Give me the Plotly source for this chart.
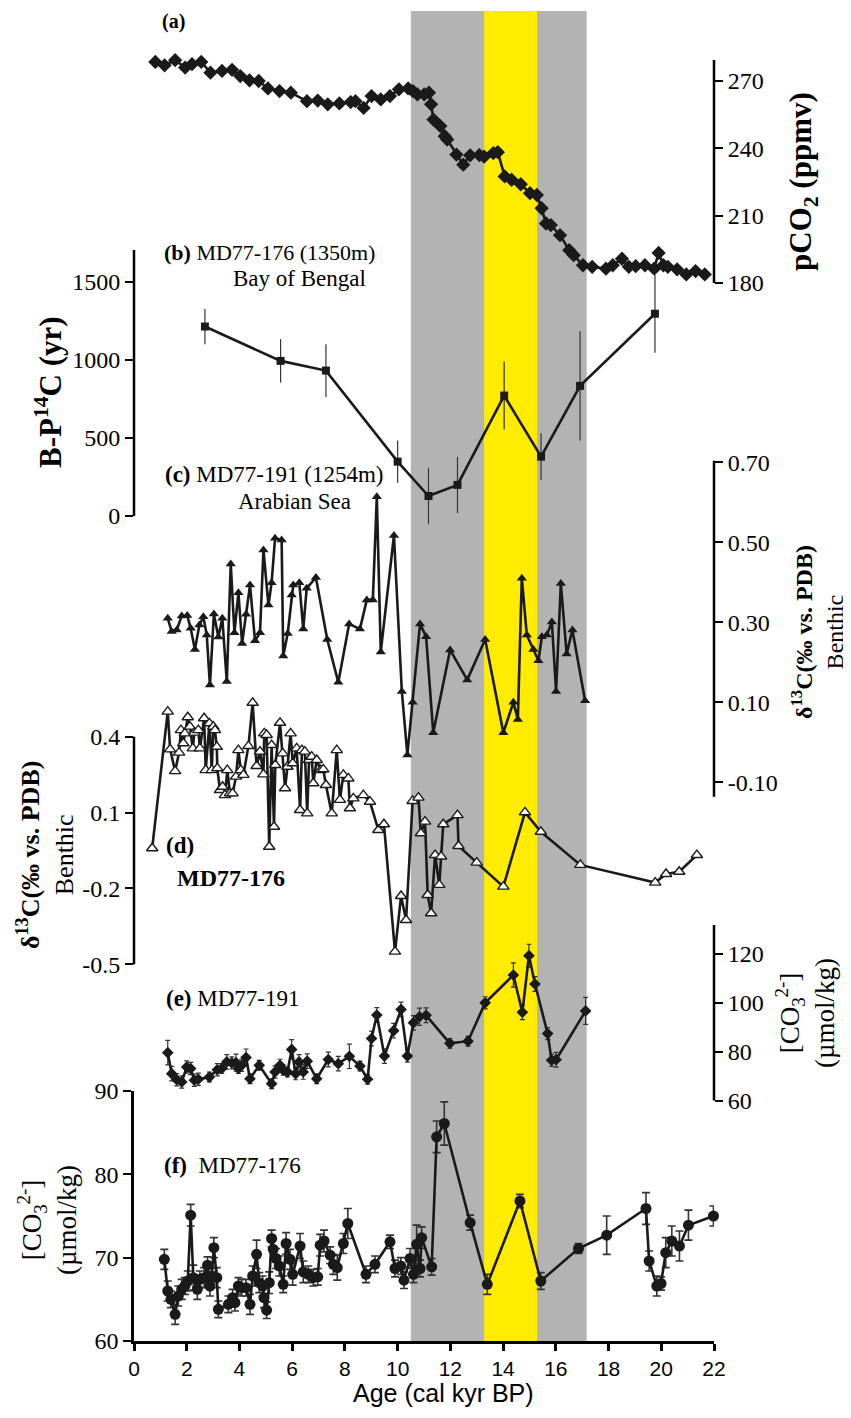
import plotly.graph_objects as go

# ---------------- data ----------------
a_age = [0.81,1.16,1.56,1.94,2.20,2.55,2.90,3.34,3.72,4.03,4.38,4.73,5.08,5.52,5.95,6.56,6.97,7.35,7.79,8.22,8.40,8.71,9.01,9.36,9.71,10.05,10.40,10.58,10.75,11.01,11.19,11.27,11.36,11.62,11.79,11.88,12.23,12.49,12.75,13.10,13.28,13.63,13.80,14.06,14.32,14.67,15.02,15.28,15.46,15.63,15.81,16.16,16.51,16.68,17.03,17.38,17.90,18.16,18.51,18.77,19.03,19.38,19.73,19.90,20.08,20.25,20.60,20.95,21.30,21.65]
a_co2 = [278.5,277.0,279.3,276.0,277.5,278.5,273.7,274.5,275.0,272.2,270.3,270.0,266.7,265.5,264.8,261.0,261.3,259.6,260.0,260.6,261.0,258.0,263.3,261.8,263.3,266.3,266.7,265.5,264.0,264.0,264.8,259.6,252.8,249.9,245.4,243.9,237.2,232.7,236.9,237.0,236.3,237.9,238.3,227.5,226.0,224.0,220.0,219.2,213.3,206.5,205.8,201.3,194.6,192.4,187.9,187.2,186.4,187.9,190.8,187.2,187.5,187.9,186.4,193.4,187.9,187.2,186.1,183.8,185.3,183.8]

b_age = [2.69,5.56,7.28,10.0,11.17,12.27,14.04,15.44,16.92,19.76]
b_val = [1213,993,931,348,128,199,771,380,833,1295]
b_err = [113,139,169,135,180,180,218,150,350,250]

c_age = [1.28,1.43,1.62,1.81,2.02,2.15,2.31,2.48,2.63,2.76,2.88,3.03,3.20,3.35,3.52,3.67,3.81,3.96,4.10,4.25,4.40,4.59,4.78,4.91,5.10,5.22,5.35,5.60,5.66,5.83,5.98,6.04,6.27,6.42,6.55,6.90,7.33,7.75,8.16,8.57,8.83,9.06,9.21,9.36,9.86,10.16,10.37,10.57,10.85,11.08,11.35,11.99,12.64,13.32,14.01,14.39,14.56,14.71,14.90,15.15,15.34,15.47,15.66,15.85,16.01,16.19,16.41,16.63,17.11]
c_d13 = [0.310,0.277,0.281,0.316,0.317,0.285,0.232,0.293,0.314,0.268,0.143,0.321,0.263,0.310,0.152,0.446,0.274,0.374,0.247,0.320,0.393,0.254,0.274,0.481,0.343,0.399,0.510,0.506,0.216,0.272,0.368,0.393,0.399,0.283,0.385,0.412,0.257,0.150,0.296,0.283,0.356,0.356,0.614,0.226,0.517,0.127,-0.032,0.100,0.296,0.264,0.024,0.231,0.156,0.257,0.024,0.100,0.057,0.410,0.268,0.232,0.204,0.264,0.268,0.301,0.127,0.397,0.221,0.281,0.104]

d_age = [0.69,1.28,1.37,1.56,1.71,1.78,1.87,1.93,2.04,2.12,2.23,2.29,2.44,2.50,2.66,2.72,2.86,2.95,3.01,3.07,3.14,3.16,3.26,3.36,3.45,3.54,3.64,3.74,3.87,3.96,4.05,4.15,4.34,4.50,4.65,4.78,4.91,4.94,5.03,5.13,5.22,5.31,5.36,5.54,5.64,5.73,5.82,5.94,6.02,6.17,6.30,6.37,6.48,6.57,6.64,6.74,6.80,6.93,7.08,7.18,7.28,7.50,7.69,7.81,7.94,8.13,8.19,8.32,8.70,8.95,9.27,9.48,9.90,10.13,10.32,10.57,10.79,10.88,11.04,11.14,11.27,11.42,11.58,11.65,11.73,12.27,12.31,13.00,14.01,14.83,15.43,16.93,19.77,20.18,20.68,21.35]
d_d13 = [-0.041,0.499,0.350,0.264,0.337,0.426,0.374,0.413,0.477,0.440,0.354,0.416,0.426,0.354,0.473,0.268,0.453,0.268,0.440,0.426,0.360,0.275,0.189,0.202,0.169,0.268,0.176,0.176,0.242,0.347,0.268,0.249,0.363,0.534,0.284,0.341,0.251,0.413,0.407,-0.035,0.367,0.044,0.288,0.455,0.334,0.196,0.281,0.413,0.295,0.354,0.110,0.347,0.341,0.097,0.308,0.321,0.216,0.308,0.268,0.271,0.209,0.097,0.347,0.150,0.249,0.235,0.117,0.156,0.169,0.143,0.031,0.054,-0.450,-0.230,-0.325,0.146,0.159,0.018,0.064,-0.226,-0.298,-0.068,-0.186,-0.074,0.054,0.090,-0.032,-0.098,-0.193,0.101,0.024,-0.107,-0.177,-0.143,-0.134,-0.068]

e_age = [1.28,1.43,1.62,1.81,2.00,2.15,2.29,2.44,2.86,3.16,3.33,3.52,3.71,3.87,3.96,4.08,4.25,4.40,4.75,5.22,5.35,5.54,5.66,5.82,5.98,6.13,6.26,6.42,6.57,6.93,7.37,7.75,8.17,8.57,8.86,9.01,9.21,9.50,9.85,10.13,10.37,10.60,10.83,11.08,11.98,12.67,13.32,14.39,14.73,14.98,15.21,15.69,15.84,16.01,17.13]
e_co3 = [79.6,71.0,68.5,67.6,73.7,73.1,68.3,68.7,69.6,72.6,73.1,75.8,75.4,75.5,73.1,74.4,77.6,68.9,74.4,66.9,71.7,74.4,72.4,71.7,80.9,71.0,75.8,71.7,76.1,68.9,76.8,75.1,78.1,74.1,68.7,85.4,95.0,78.2,88.6,97.3,78.2,91.8,94.3,94.9,83.4,84.3,100.0,111.4,96.1,119.3,107.7,87.4,76.5,76.7,96.7]
e_err = [5,3,2.5,2.5,2.5,2.5,2.5,2.5,2,2.5,2,3,2.5,3.5,2,2.5,3.5,2,2,2,2.5,2.5,2,2,4,2.5,3,3,3,2,3,3,5,2,2,3,3,3,3,3,2.5,3,3.5,3,2,2,2.5,5,3,4.7,3,2.5,2.5,3,5.5]

f_age = [1.15,1.28,1.40,1.56,1.68,1.81,1.93,2.04,2.15,2.25,2.40,2.50,2.66,2.79,2.88,2.95,3.03,3.14,3.20,3.58,3.74,3.83,3.96,4.08,4.25,4.40,4.50,4.65,4.75,4.88,4.93,5.03,5.13,5.22,5.28,5.39,5.51,5.66,5.77,5.92,6.02,6.30,6.42,6.61,6.80,6.97,7.06,7.21,7.44,7.56,7.71,7.94,8.11,8.80,9.14,9.71,9.90,10.12,10.24,10.47,10.60,10.72,10.85,10.91,11.29,11.48,11.77,12.75,13.40,14.64,15.43,16.86,17.93,19.42,19.54,19.83,19.99,20.17,20.40,20.69,21.03,21.98]
f_co3 = [69.8,66.0,65.0,63.2,65.4,66.2,66.6,67.2,75.1,67.6,66.2,67.4,67.6,69.1,66.6,67.8,71.2,67.6,63.8,64.4,65.2,64.6,66.6,66.4,66.4,64.4,67.8,70.4,67.0,66.6,65.2,63.7,67.0,72.3,71.0,69.9,69.0,66.8,71.7,69.8,68.0,71.4,68.3,68.0,67.6,67.7,71.5,72.0,70.3,69.2,68.8,71.7,74.1,68.0,69.2,71.9,68.7,69.0,67.3,69.9,68.0,71.6,68.7,72.4,68.9,84.5,86.1,74.2,66.8,76.8,67.2,71.1,72.7,75.9,69.6,66.6,66.9,70.6,72.0,71.4,73.9,75.0]
f_err = [1.2,1.2,1.0,1.2,1.2,1.2,1.0,1.2,1.3,1.5,1.2,1.0,1.2,1.0,1.2,1.0,1.2,1.2,1.0,1.0,1.0,1.0,1.0,1.0,1.0,1.2,1.2,1.7,1.2,1.2,1.2,1.0,1.3,1.0,1.2,1.2,1.2,1.0,1.3,1.2,1.3,1.5,1.3,1.0,1.0,1.0,1.3,1.3,1.0,1.2,1.5,1.2,1.8,1.0,1.0,0.8,1.0,1.0,1.0,1.2,1.0,2.3,1.0,1.3,1.0,1.9,2.6,0.9,1.2,0.8,1.0,0.6,2.3,1.9,1.2,1.2,0.8,1.8,1.8,1.8,1.8,1.2]

bands = [(10.5, 17.17, "#b3b3b3"), (13.28, 15.29, "#ffec00")]
x_ticks = list(range(0, 23, 2))

# ---------------- layout helpers ----------------
OFF = 8                      # default page body margin
FW, FH = 851 - OFF, 1418 - 2 * OFF
L, R, T, B = 134, 714, 11, 1341   # page pixels of plot area
PH = B - T
SERIF = "Liberation Serif"
SANS = "Liberation Sans"
INK = "#1a1a1a"

def fy(p):
    return (B - p) / PH

def fx(p):
    return (p - L) / (R - L)

def val_at(cal, p):
    (v1, p1), (v2, p2) = cal
    s = (v1 - v2) / (p1 - p2)
    return v1 + (p - p1) * s

cal = {
    "a": ((270, 81), (180, 283)),
    "b": ((1500, 281.7), (0, 516)),
    "c": ((0.70, 462.3), (-0.10, 782.3)),
    "d": ((0.4, 736.7), (-0.5, 964.3)),
    "e": ((120, 954), (60, 1100.5)),
}
extent = {"a": (40, 300), "b": (240, 530), "c": (440, 800), "d": (690, 975), "e": (915, 1110)}

fig = go.Figure()

def add(x, y, yref, symbol, size, fill, err=None, cap=0, errthick=1.2, mline=None):
    marker = dict(symbol=symbol, size=size, color=fill,
                  line=dict(color=INK, width=mline if mline else 0))
    tr = go.Scatter(x=x, y=y, mode="lines+markers", yaxis=yref, xaxis="x",
                    line=dict(color=INK, width=2.6), marker=marker,
                    cliponaxis=False, showlegend=False)
    if err is not None:
        tr.error_y = dict(type="data", array=err, visible=True, color="#333333",
                          thickness=errthick, width=cap)
    fig.add_trace(tr)

add(a_age, a_co2, "y", "diamond", 11, INK)
add(b_age, b_val, "y2", "square", 8, INK, err=b_err, cap=0, errthick=1.2)
add(c_age, c_d13, "y3", "triangle-up", 9, INK)
add(d_age, d_d13, "y4", "triangle-up", 10, "white", mline=1.4)
add(e_age, e_co3, "y5", "diamond", 9, INK, err=e_err, cap=2.5, errthick=1.2)
add(f_age, f_co3, "y6", "circle", 11, INK, err=f_err, cap=4, errthick=1.6)

TICKFONT = dict(family=SERIF, size=24, color="black")

def yax(key, side, tickvals, ticktext):
    top, bot = extent[key]
    return dict(domain=[fy(bot), fy(top)],
                range=[val_at(cal[key], bot), val_at(cal[key], top)],
                anchor="x", side=side, showgrid=False, zeroline=False, showline=False,
                automargin=False,
                ticks="outside", ticklen=8, tickwidth=2, tickcolor="black",
                tickvals=tickvals, ticktext=ticktext, tickfont=TICKFONT, fixedrange=True)

layout = dict(
    template="none",
    width=FW, height=FH,
    margin=dict(l=L - OFF, r=FW - (R - OFF), t=T - OFF, b=FH - (B - OFF), pad=0, autoexpand=False),
    paper_bgcolor="white", plot_bgcolor="rgba(0,0,0,0)",
    showlegend=False,
    xaxis=dict(domain=[0, 1], range=[0, 22], anchor="y6", showgrid=False, zeroline=False,
               automargin=False,
               showline=True, linewidth=2.5, linecolor="black",
               ticks="outside", ticklen=7, tickwidth=2.5, tickcolor="black",
               tickvals=x_ticks, tickfont=dict(family=SANS, size=21, color="black"),
               fixedrange=True),
    yaxis=yax("a", "right", [180, 210, 240, 270], ["180", "210", "240", "270"]),
    yaxis2=yax("b", "left", [0, 500, 1000, 1500], ["0", "500", "1000", "1500"]),
    yaxis3=yax("c", "right", [-0.1, 0.1, 0.3, 0.5, 0.7], ["-0.10", "0.10", "0.30", "0.50", "0.70"]),
    yaxis4=yax("d", "left", [-0.5, -0.2, 0.1, 0.4], ["-0.5", "-0.2", "0.1", "0.4"]),
    yaxis5=yax("e", "right", [60, 80, 100, 120], ["60", "80", "100", "120"]),
    yaxis6=dict(domain=[0, fy(1091)], range=[60, 90], anchor="x", side="left",
                showgrid=False, zeroline=False, showline=True, linewidth=2.5, linecolor="black",
                automargin=False,
                ticks="outside", ticklen=8, tickwidth=2, tickcolor="black",
                tickvals=[60, 70, 80, 90], ticktext=["60", "70", "80", "90"],
                tickfont=TICKFONT, fixedrange=True),
)
fig.update_layout(**layout)

shapes = []
for x0, x1, col in bands:
    shapes.append(dict(type="rect", xref="x", yref="paper", x0=x0, x1=x1, y0=0, y1=1,
                       fillcolor=col, line=dict(width=0), layer="below"))
spines = [("y", 1, 180, val_at(cal["a"], 60)),
          ("y2", 0, 0, val_at(cal["b"], 250)),
          ("y3", 1, val_at(cal["c"], 796.7), val_at(cal["c"], 460.7)),
          ("y4", 0, -0.5, 0.4),
          ("y5", 1, 60, val_at(cal["e"], 925))]
for yr, xp, v0, v1 in spines:
    shapes.append(dict(type="line", xref="paper", yref=yr, x0=xp, x1=xp, y0=v0, y1=v1,
                       line=dict(color="black", width=2.5)))
fig.update_layout(shapes=shapes)

def note(text, x, y, size=20, xanchor="left", angle=0, family=SERIF):
    fig.add_annotation(text=text, xref="paper", yref="paper", x=fx(x), y=fy(y),
                       xanchor=xanchor, yanchor="middle", textangle=angle, showarrow=False,
                       font=dict(family=family, size=size, color="black"), align="center")

note("<b>(a)</b>", 173, 22, size=20, xanchor="center")
note("<b>(b)</b> MD77-176 (1350m)", 162, 253, size=22)
note("Bay of Bengal", 299, 278, size=23, xanchor="center")
note("<b>(c)</b> MD77-191 (1254m)", 163, 475, size=23)
note("Arabian Sea", 294, 501, size=23, xanchor="center")
note("<b>(d)</b>", 164, 845, size=23)
note("<b>MD77-176</b>", 175, 878, size=24)
note("<b>(e)</b> MD77-191", 164, 998, size=23)
note("<b>(f)</b>\u00a0\u00a0MD77-176", 162, 1165, size=23)

note("<b>pCO<sub>2</sub> (ppmv)</b>", 803, 182, size=31, xanchor="center", angle=-90)
note("<b>B-P<sup>14</sup>C (yr)</b>", 48, 392, size=31, xanchor="center", angle=-90)
note("<b>δ<sup>13</sup>C(‰ vs. PDB)</b><br>Benthic", 817, 632, size=24, xanchor="center", angle=-90)
note("<b>δ<sup>13</sup>C(‰ vs. PDB)</b><br>Benthic", 46, 855, size=26, xanchor="center", angle=-90)
note("[CO<sub>3</sub><sup>2-</sup>]<br>(µmol/kg)", 805, 1013, size=27, xanchor="center", angle=-90)
note("[CO<sub>3</sub><sup>2-</sup>]<br>(µmol/kg)", 47, 1220, size=27, xanchor="center", angle=-90)
note("Age (cal kyr BP)", 443, 1393, size=25, xanchor="center", family=SANS)

fig.write_html("out.html")
